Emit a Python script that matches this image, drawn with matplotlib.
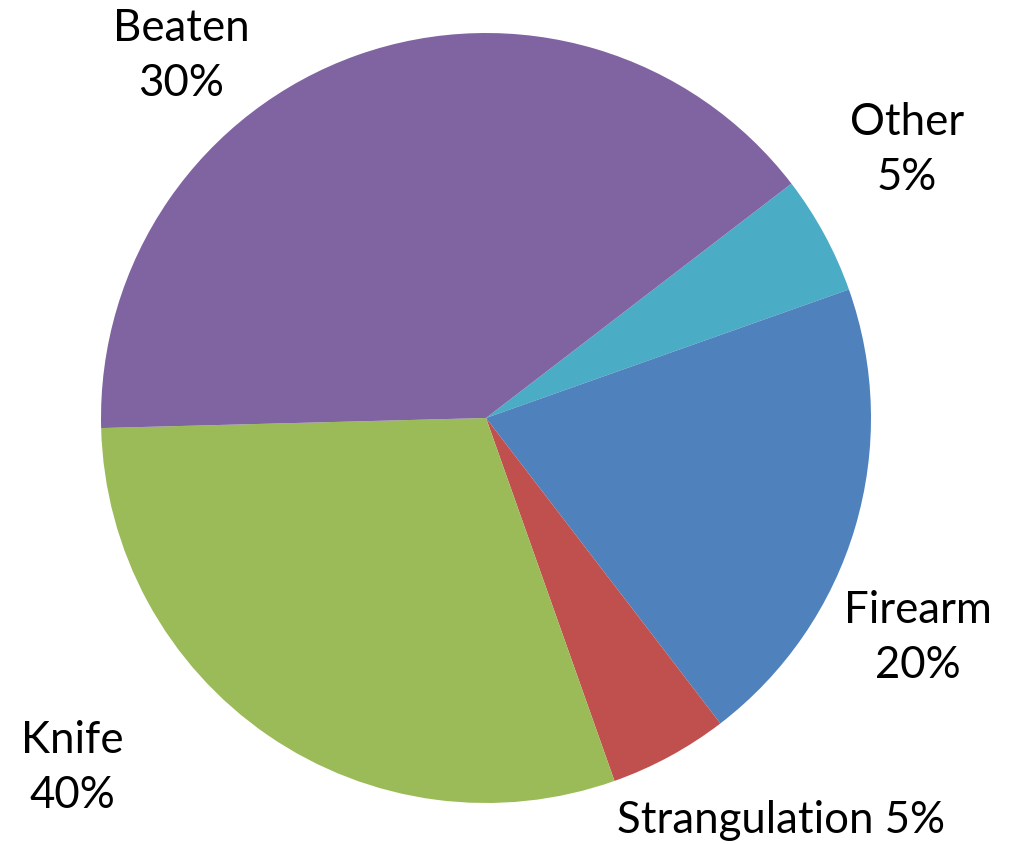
import matplotlib
matplotlib.use("Agg")
import matplotlib.pyplot as plt

# slices, clockwise starting from the Other slice
categories = ["Other", "Firearm", "Strangulation", "Knife", "Beaten"]
sizes = [5, 20, 5, 30, 40]
pct_text = ["5%", "20%", "5%", "40%", "30%"]
colors = ["#4BACC6", "#4F81BD", "#C0504D", "#9BBB59", "#8064A2"]

W, H = 1025, 845
fig = plt.figure(figsize=(W / 100, H / 100), dpi=100)
ax = fig.add_axes([0, 0, 1, 1])

cx, cy, r = 486, H - 419, 385
ax.pie(sizes, colors=colors, startangle=37.5, counterclock=False,
       center=(cx, cy), radius=r, frame=True,
       wedgeprops=dict(linewidth=0))
ax.set_xlim(0, W)
ax.set_ylim(0, H)
ax.set_aspect("equal")
ax.axis("off")

font = dict(family="Lato", fontsize=31.5, color="black")
# label anchor points (pixels, from top)
label_pos = {
    "Other": (907, 150),
    "Firearm": (918, 638),
    "Strangulation": (781, 821),
    "Knife": (72, 768),
    "Beaten": (181, 56),
}
for name, pct in zip(categories, pct_text):
    x, y = label_pos[name]
    if name == "Strangulation":
        s = name + " " + pct
    else:
        s = name + "\n" + pct
    ax.text(x, H - y, s, ha="center", va="center", linespacing=1.42, **font)

fig.savefig("out.png", dpi=100)
